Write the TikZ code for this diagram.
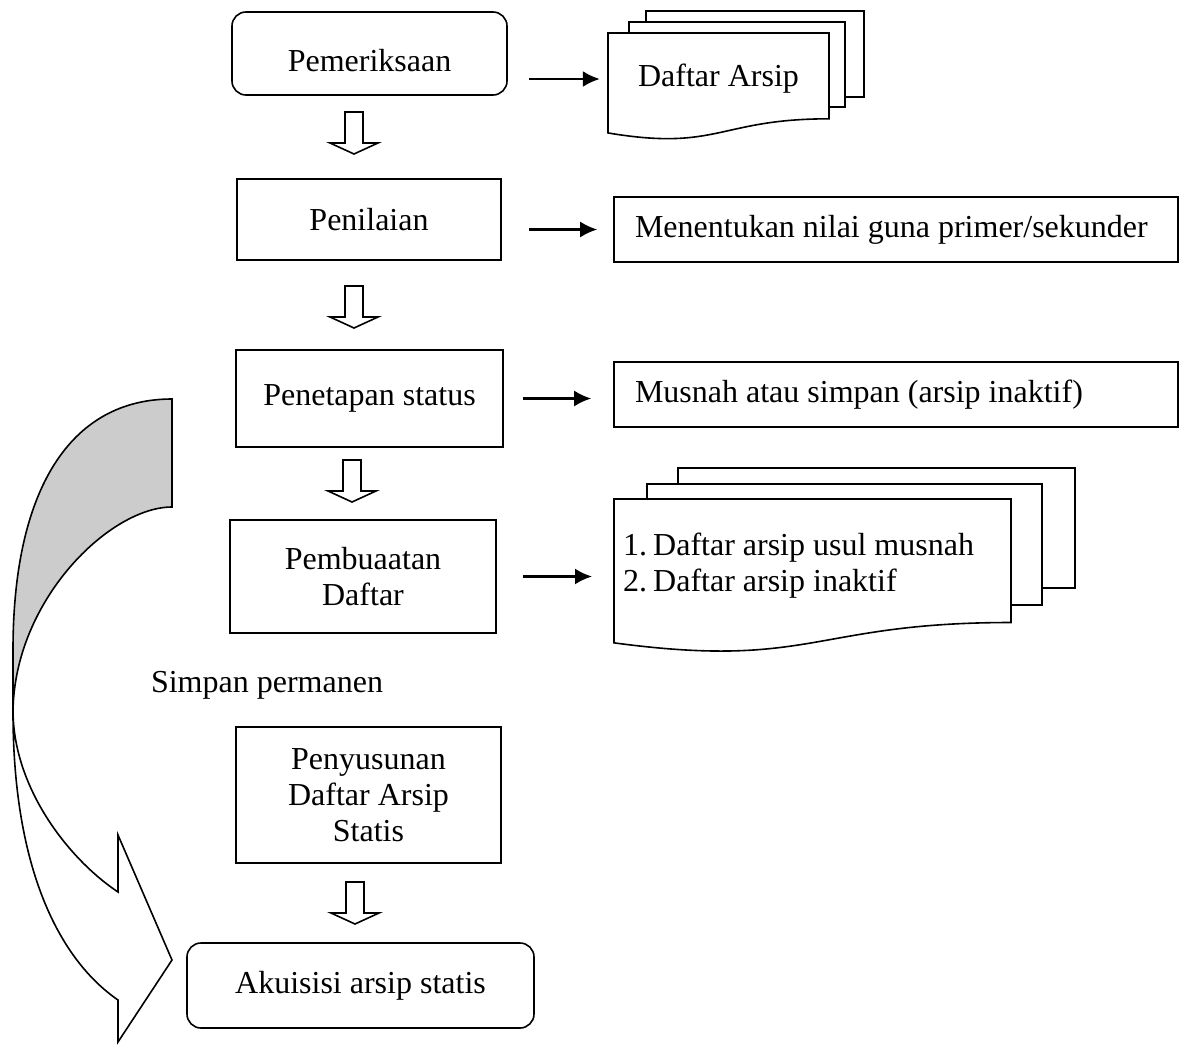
\documentclass[tikz,border=0pt]{standalone}
\usepackage{fontspec}
\setmainfont{Liberation Serif}
\usetikzlibrary{calc,backgrounds,arrows.meta}

\tikzset{
  garis/.style={line width=1.6pt},
  kotak/.style={garis, draw, align=center, inner sep=0pt},
  kotakbulat/.style={kotak, rounded corners=14pt},
  keterangan/.style={garis, draw, align=flush left, inner xsep=21pt, inner ysep=0pt},
  lembar/.style={garis, draw, fill=white},
  panah/.style={line width=2.2pt, -{Latex[length=17pt,width=16pt]}},
}

% lembar dokumen: x kiri, y atas, x kanan, tinggi
\newcommand{\dokumen}[4]{%
  \draw[lembar] (#1,#2) -- (#3,#2) -- (#3,{#2+0.802*#4})
    .. controls ({(#1+#3)/2},{#2+0.802*#4}) and ({(#1+#3)/2},{#2+1.1075*#4})
    .. (#1,{#2+0.934*#4}) -- cycle;}

\begin{document}
\begin{tikzpicture}[x=1pt,y=-1pt,font=\fontsize{32}{36}\selectfont]
\useasboundingbox (0,0) rectangle (1181,1052);

%kotak proses
\node[kotakbulat, minimum width=275pt, minimum height=83pt, text height=37pt] (pemeriksaan) at (369.5,53.5) {Pemeriksaan};
\node[kotak, minimum width=264pt, minimum height=81pt] (penilaian) at (369,219.5) {Penilaian};
\node[kotak, minimum width=267pt, minimum height=97pt] (penetapan) at (369.5,398.5) {Penetapan status};
\node[kotak, minimum width=266pt, minimum height=113pt] (pembuatan) at (363,576.5) {Pembuaatan\\Daftar};
\node (simpan) at (267,685) {Simpan permanen};
\node[kotak, minimum width=265pt, minimum height=136pt] (penyusunan) at (368.5,795) {Penyusunan\\Daftar Arsip\\Statis};
\node[kotakbulat, minimum width=347pt, minimum height=85pt] (akuisisi) at (360.5,985.5) {Akuisisi arsip statis};

%keterangan
\node[keterangan, text width=522pt, minimum height=65pt] (menentukan) at (896,229.5) {Menentukan nilai guna primer/sekunder};
\node[keterangan, text width=522pt, minimum height=65pt] (musnah) at (896,394.5) {Musnah atau simpan (arsip inaktif)};

%dokumen
\node[minimum width=221pt, minimum height=92pt] (daftarA) at (718.5,79) {Daftar Arsip};
\node[anchor=west, inner sep=0pt] (daftarB) at (623,566) {\begin{tabular}{@{}l@{\hspace{6pt}}l@{}}1.&Daftar arsip usul musnah\\2.&Daftar arsip inaktif\end{tabular}};

\begin{scope}[on background layer]
  \draw[lembar] (646,11) rectangle (864,97);
  \draw[lembar] (629,22) rectangle (845,107);
  \dokumen{608}{33}{829}{107}
  \draw[lembar] (678,468) rectangle (1075,588);
  \draw[lembar] (647,484) rectangle (1042,605);
  \dokumen{614}{499}{1011}{154}
\end{scope}

%panah ke keterangan
\draw[panah, shorten <=21pt, shorten >=8pt] (pemeriksaan.east |- daftarA.west) -- (daftarA.west);
\draw[panah, shorten <=27pt, shorten >=16pt] (penilaian.east |- menentukan.west) -- (menentukan.west);
\draw[panah, shorten <=19pt, shorten >=22pt] (penetapan.east) -- (penetapan.east -| musnah.west);
\draw[panah, shorten <=26pt, shorten >=31pt] (pembuatan.east) -- (pembuatan.east -| daftarB.west);

%panah blok ke bawah
\foreach \p in {(354,112),(354,286),(352,460),(355,882)}
  \draw[garis, shift={\p}] (-9,0) -- (9,0) -- (9,31) -- (24,31) -- (0,42) -- (-24,31) -- (-9,31) -- cycle;

%panah lengkung
\draw[garis, fill=white] (13,712) .. controls (13,870) and (60,960) .. (118,1000) -- (118,1042) -- (172,960) -- (118,835) -- (118,892) .. controls (70,860) and (14,790) .. (13,712) -- cycle;
\draw[garis, fill=gray!40] (172,399) .. controls (70,399) and (13,490) .. (13,650) -- (13,712) .. controls (14,600) and (110,507) .. (172,507) -- cycle;
\end{tikzpicture}
\end{document}
